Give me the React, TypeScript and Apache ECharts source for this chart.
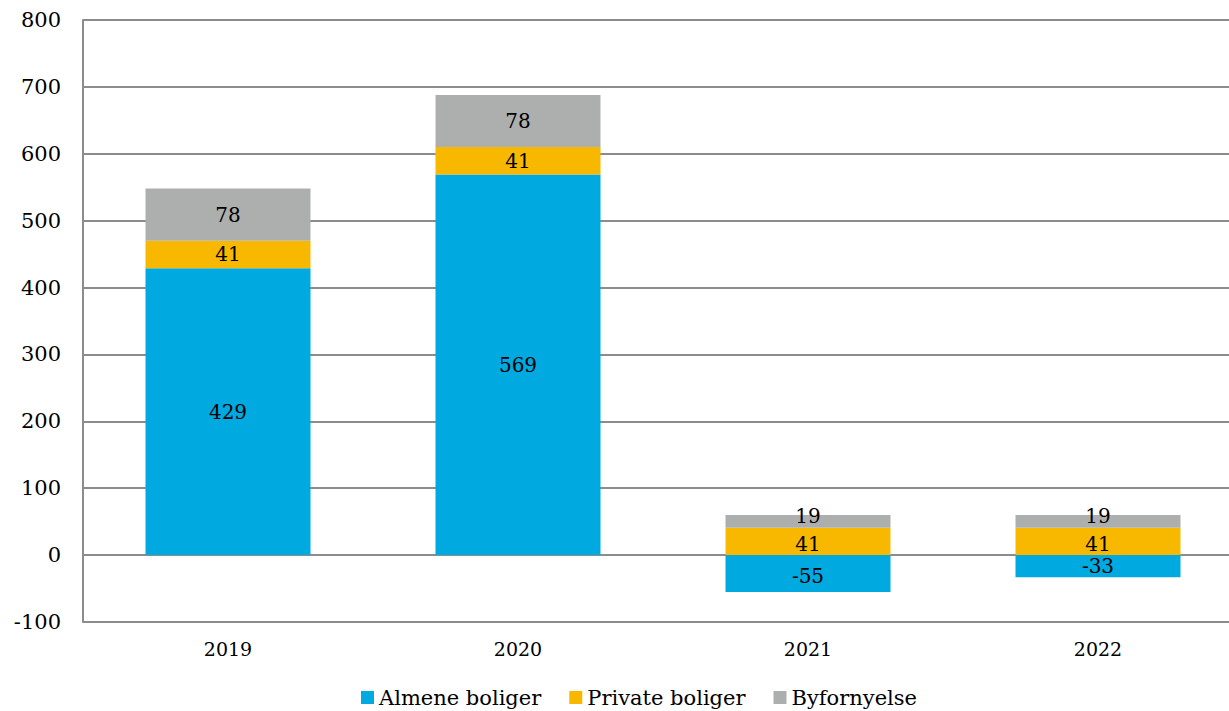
import React, { useEffect, useRef } from "react";
import * as echarts from "echarts";

const categories = ["2019", "2020", "2021", "2022"];
const almene = [429, 569, -55, -33];
const privat = [41, 41, 41, 41];
const byfornyelse = [78, 78, 19, 19];
const seriesNames = ["Almene boliger", "Private boliger", "Byfornyelse"];
const colors = ["#00A9E0", "#F8B800", "#ADAFAE"];

const FONT = "DejaVu Serif";

export default function App() {
  const ref = useRef<HTMLDivElement>(null);
  useEffect(() => {
    if (!ref.current) return;
    const chart = echarts.init(ref.current, undefined, { renderer: "svg" });
    const mk = (name: string, data: number[], color: string, offsets: number[]) => ({
      name,
      type: "bar",
      stack: "total",
      data: data.map((v, i) => ({
        value: v,
        label: { offset: [0, offsets[i]] },
      })),
      barWidth: "56.9%",
      itemStyle: { color },
      label: {
        show: true,
        position: "inside",
        color: "#000",
        fontFamily: FONT,
        fontSize: 20,
        formatter: (p: any) => String(p.value),
      },
    });
    chart.setOption({
      animation: false,
      textStyle: { fontFamily: FONT },
      grid: { left: 83, right: 0, top: 20, bottom: 89, containLabel: false },
      legend: {
        bottom: -2,
        left: 356,
        itemWidth: 13,
        itemHeight: 13,
        itemGap: 28,
        icon: "rect",
        textStyle: { fontFamily: FONT, fontSize: 21, color: "#000" },
        data: seriesNames,
      },
      xAxis: {
        type: "category",
        data: categories,
        axisLine: { show: false },
        axisTick: { show: false },
        axisLabel: { fontFamily: FONT, fontSize: 19, color: "#000", margin: 17 },
      },
      yAxis: {
        type: "value",
        min: -100,
        max: 800,
        interval: 100,
        axisLine: { show: true, lineStyle: { color: "#8c8c8c", width: 2 } },
        axisTick: { show: false },
        splitLine: { lineStyle: { color: "#8c8c8c", width: 2 } },
        axisLabel: { fontFamily: FONT, fontSize: 21, color: "#000", margin: 22 },
      },
      series: [
        mk(seriesNames[0], almene, colors[0], [0, 0, 2, 0]),
        mk(seriesNames[1], privat, colors[1], [0, 0, 3, 3]),
        mk(seriesNames[2], byfornyelse, colors[2], [0, 0, -5, -5]),
      ],
    });
    return () => chart.dispose();
  }, []);
  return (
    <div style={{ position: "fixed", left: 0, top: 0, width: 1229, height: 711, overflow: "hidden", background: "#fff" }}>
      <div ref={ref} style={{ width: 1243, height: 711 }} />
    </div>
  );
}
